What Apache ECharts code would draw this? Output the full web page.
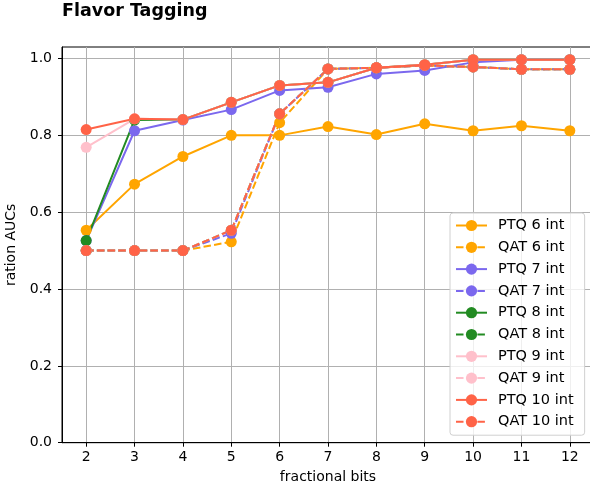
<!DOCTYPE html>
<html>
<head>
<meta charset="utf-8">
<script src="https://cdn.jsdelivr.net/npm/echarts@6/dist/echarts.min.js"></script>
<style>
html,body{margin:0;padding:0;background:#fff;}
#chart{width:590px;height:493px;}
</style>
</head>
<body>
<div id="chart"></div>
<script>
const bits = [2, 3, 4, 5, 6, 7, 8, 9, 10, 11, 12];
const ptq6  = [0.553, 0.673, 0.745, 0.800, 0.800, 0.823, 0.802, 0.830, 0.812, 0.825, 0.812];
const qat6  = [0.500, 0.500, 0.500, 0.523, 0.833, 0.973, 0.976, 0.982, 0.978, 0.972, 0.972];
const ptq7  = [0.526, 0.812, 0.840, 0.867, 0.917, 0.925, 0.960, 0.969, 0.990, 0.997, 0.997];
const qat7  = [0.500, 0.500, 0.500, 0.545, 0.856, 0.973, 0.976, 0.982, 0.978, 0.972, 0.972];
const ptq8  = [0.526, 0.840, 0.841, 0.886, 0.930, 0.938, 0.976, 0.984, 0.997, 0.997, 0.997];
const qat8  = [0.500, 0.500, 0.500, 0.553, 0.856, 0.973, 0.976, 0.982, 0.978, 0.972, 0.972];
const ptq9  = [0.769, 0.843, 0.841, 0.886, 0.930, 0.938, 0.976, 0.984, 0.997, 0.997, 0.997];
const qat9  = [0.500, 0.500, 0.500, 0.553, 0.856, 0.973, 0.976, 0.982, 0.978, 0.972, 0.972];
const ptq10 = [0.815, 0.843, 0.841, 0.886, 0.930, 0.938, 0.976, 0.984, 0.997, 0.997, 0.997];
const qat10 = [0.500, 0.500, 0.500, 0.553, 0.856, 0.973, 0.976, 0.982, 0.978, 0.972, 0.972];
const yTicks = [0, 0.2, 0.4, 0.6, 0.8, 1.0];

const seriesDefs = [
  ['PTQ 6 int', ptq6, '#FFA500', 'solid'],
  ['QAT 6 int', qat6, '#FFA500', 'dashed'],
  ['PTQ 7 int', ptq7, '#7B68EE', 'solid'],
  ['QAT 7 int', qat7, '#7B68EE', 'dashed'],
  ['PTQ 8 int', ptq8, '#228B22', 'solid'],
  ['QAT 8 int', qat8, '#228B22', 'dashed'],
  ['PTQ 9 int', ptq9, '#FFC0CB', 'solid'],
  ['QAT 9 int', qat9, '#FFC0CB', 'dashed'],
  ['PTQ 10 int', ptq10, '#FF6347', 'solid'],
  ['QAT 10 int', qat10, '#FF6347', 'dashed']
];

const FONT = 'DejaVu Sans';
const chart = echarts.init(document.getElementById('chart'), null, {renderer: 'canvas'});
chart.setOption({
  animation: false,
  backgroundColor: '#fff',
  textStyle: {fontFamily: FONT},
  title: {
    text: 'Flavor Tagging',
    left: 62, top: 2, padding: 0,
    textStyle: {fontFamily: FONT, fontWeight: 'bold', fontSize: 17.5, color: '#000'}
  },
  grid: {
    left: 62, top: 47, width: 532, height: 395.7,
    outerBoundsMode: 'none', containLabel: false,
    show: true, borderColor: '#000', borderWidth: 1, backgroundColor: 'transparent'
  },
  legend: {
    orient: 'vertical',
    left: 450, top: 213,
    padding: [5, 11, 6, 5],
    itemWidth: 31, itemHeight: 14, itemGap: 6.8,
    backgroundColor: 'rgba(255,255,255,0.8)',
    borderColor: '#d0d0d0', borderWidth: 1, borderRadius: 3,
    textStyle: {fontFamily: FONT, fontSize: 14.5, lineHeight: 14, color: '#000', padding: [0, 0, 0, 6]},
    data: seriesDefs.map(d => d[0])
  },
  xAxis: {
    type: 'value',
    min: 1.5, max: 12.5,
    name: 'fractional bits',
    nameLocation: 'middle', nameGap: 28,
    nameTextStyle: {fontFamily: FONT, fontSize: 14, color: '#000'},
    axisLine: {show: true, onZero: false, lineStyle: {color: '#000', width: 1}},
    axisTick: {show: true, length: 4, customValues: bits, lineStyle: {color: '#000'}},
    axisLabel: {customValues: bits, fontFamily: FONT, fontSize: 14, color: '#000', margin: 8},
    splitLine: {show: true, lineStyle: {color: '#b0b0b0', width: 1}}
  },
  yAxis: {
    type: 'value',
    min: 0, max: 1.03,
    name: 'ration AUCs',
    nameLocation: 'middle', nameGap: 42, nameRotate: 90,
    nameTextStyle: {fontFamily: FONT, fontSize: 14, color: '#000'},
    axisLine: {show: true, onZero: false, lineStyle: {color: '#000', width: 1}},
    axisTick: {show: true, length: 4, customValues: yTicks, lineStyle: {color: '#000'}},
    axisLabel: {customValues: yTicks, fontFamily: FONT, fontSize: 14, color: '#000', margin: 10,
      formatter: v => v.toFixed(1)},
    splitLine: {show: true, lineStyle: {color: '#b0b0b0', width: 1}}
  },
  series: seriesDefs.map(d => ({
    name: d[0],
    type: 'line',
    data: bits.map((b, i) => [b, d[1][i]]),
    symbol: 'circle',
    symbolSize: 11,
    color: d[2],
    itemStyle: {color: d[2]},
    lineStyle: {color: d[2], width: 2, type: d[3] === 'dashed' ? [7.5, 3.2] : 'solid'},
    emphasis: {disabled: true}
  }))
});
</script>
</body>
</html>
